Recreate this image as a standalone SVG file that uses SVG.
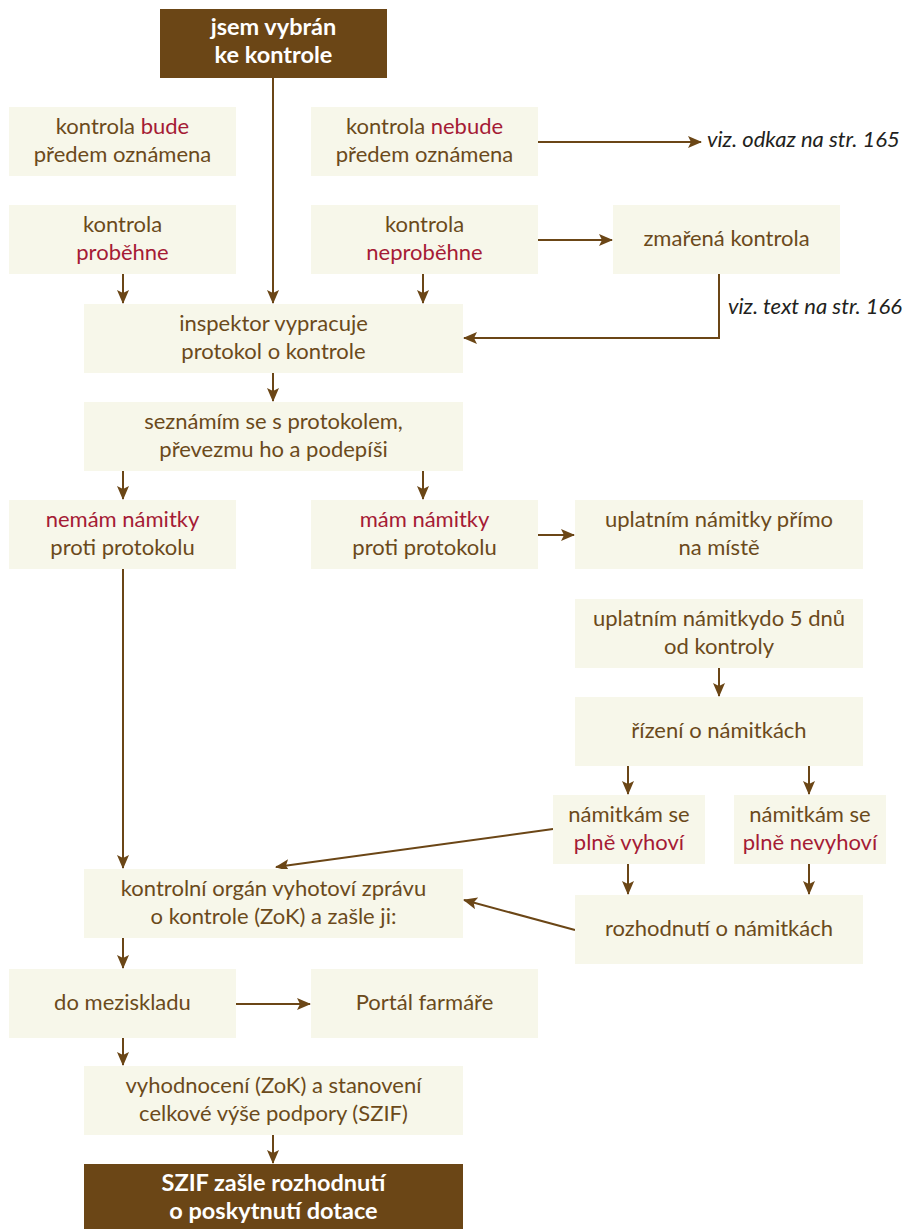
<svg xmlns="http://www.w3.org/2000/svg" width="904" height="1229" viewBox="0 0 904 1229">
<style>
.b{fill:#f7f7ea}
.d{fill:#6b4616}
text{font-family:Lato,"Open Sans","Liberation Sans",sans-serif;font-size:22px;fill:#6b4a1b;text-anchor:middle}
.w{fill:#ffffff;font-weight:bold;font-size:23.5px}
.r{fill:#a51b35}
.i{font-style:italic;fill:#231f20;text-anchor:start}
.c{stroke:#6b4616;stroke-width:2;fill:none;marker-end:url(#a)}
</style>
<defs>
<marker id="a" markerUnits="userSpaceOnUse" markerWidth="14" markerHeight="12" viewBox="0 0 14 12" refX="13" refY="6" orient="auto">
<path d="M0,0 L14,6 L0,12 L3,6 Z" fill="#6b4616"/>
</marker>
</defs>
<g id="connectors">
<path class="c" d="M273,78 V303"/>
<path class="c" d="M123,274 V303"/>
<path class="c" d="M423,274 V303"/>
<path class="c" d="M538,142 H701"/>
<path class="c" d="M538,240 H612"/>
<path class="c" d="M719,274 V338 H464"/>
<path class="c" d="M273,373 V401"/>
<path class="c" d="M123,471 V499"/>
<path class="c" d="M423,471 V499"/>
<path class="c" d="M538,535 H574"/>
<path class="c" d="M719,668 V696"/>
<path class="c" d="M628,766 V794"/>
<path class="c" d="M809,766 V794"/>
<path class="c" d="M628,864 V894"/>
<path class="c" d="M809,864 V894"/>
<path class="c" d="M123,569 V868"/>
<path class="c" d="M553,829 L276,867"/>
<path class="c" d="M575,930 L464,900"/>
<path class="c" d="M123,938 V968"/>
<path class="c" d="M236,1004 H310"/>
<path class="c" d="M123,1038 V1065"/>
<path class="c" d="M273,1135 V1163"/>
</g>
<g id="n1"><rect class="d" x="160" y="9" width="227" height="69"/><text class="w" x="273.5" y="35">jsem vybrán</text><text class="w" x="273.5" y="63">ke kontrole</text></g>
<g id="n2"><rect class="b" x="9" y="107" width="227" height="69"/><text x="122.5" y="133.5">kontrola <tspan class="r">bude</tspan></text><text x="122.5" y="162">předem oznámena</text></g>
<g id="n3"><rect class="b" x="311" y="107" width="227" height="69"/><text x="424.5" y="133.5">kontrola <tspan class="r">nebude</tspan></text><text x="424.5" y="162">předem oznámena</text></g>
<g id="n4"><rect class="b" x="9" y="205" width="227" height="69"/><text x="122.5" y="231.5">kontrola</text><text class="r" x="122.5" y="260">proběhne</text></g>
<g id="n5"><rect class="b" x="311" y="205" width="227" height="69"/><text x="424.5" y="231.5">kontrola</text><text class="r" x="424.5" y="260">neproběhne</text></g>
<g id="n6"><rect class="b" x="613" y="205" width="227" height="69"/><text x="726.5" y="246">zmařená kontrola</text></g>
<g id="n7"><rect class="b" x="84" y="304" width="379" height="69"/><text x="273.5" y="330.5">inspektor vypracuje</text><text x="273.5" y="359">protokol o kontrole</text></g>
<g id="n8"><rect class="b" x="84" y="402" width="379" height="69"/><text x="273.5" y="428.5">seznámím se s protokolem,</text><text x="273.5" y="457">převezmu ho a podepíši</text></g>
<g id="n9"><rect class="b" x="9" y="500" width="227" height="69"/><text class="r" x="122.5" y="526.5">nemám námitky</text><text x="122.5" y="555">proti protokolu</text></g>
<g id="n10"><rect class="b" x="311" y="500" width="227" height="69"/><text class="r" x="424.5" y="526.5">mám námitky</text><text x="424.5" y="555">proti protokolu</text></g>
<g id="n11"><rect class="b" x="575" y="500" width="288" height="69"/><text x="719" y="526.5">uplatním námitky přímo</text><text x="719" y="555">na místě</text></g>
<g id="n12"><rect class="b" x="575" y="599" width="288" height="69"/><text x="719" y="625.5">uplatním námitkydo 5 dnů</text><text x="719" y="654">od kontroly</text></g>
<g id="n13"><rect class="b" x="575" y="697" width="288" height="69"/><text x="719" y="738">řízení o námitkách</text></g>
<g id="n14"><rect class="b" x="553" y="795" width="152" height="69"/><text x="629" y="821.5">námitkám se</text><text class="r" x="629" y="850">plně vyhoví</text></g>
<g id="n15"><rect class="b" x="734" y="795" width="152" height="69"/><text x="810" y="821.5">námitkám se</text><text class="r" x="810" y="850">plně nevyhoví</text></g>
<g id="n16"><rect class="b" x="575" y="895" width="288" height="69"/><text x="719" y="936">rozhodnutí o námitkách</text></g>
<g id="n17"><rect class="b" x="84" y="869" width="379" height="69"/><text x="273.5" y="895.5">kontrolní orgán vyhotoví zprávu</text><text x="273.5" y="924">o kontrole (ZoK) a zašle ji:</text></g>
<g id="n18"><rect class="b" x="9" y="969" width="227" height="69"/><text x="122.5" y="1010">do meziskladu</text></g>
<g id="n19"><rect class="b" x="311" y="969" width="227" height="69"/><text x="424.5" y="1010">Portál farmáře</text></g>
<g id="n20"><rect class="b" x="84" y="1066" width="379" height="69"/><text x="273.5" y="1092.5">vyhodnocení (ZoK) a stanovení</text><text x="273.5" y="1121">celkové výše podpory (SZIF)</text></g>
<g id="n21"><rect class="d" x="84" y="1164" width="379" height="70"/><text class="w" x="273.5" y="1190.5">SZIF zašle rozhodnutí</text><text class="w" x="273.5" y="1219">o poskytnutí dotace</text></g>
<g id="labels"><text class="i" x="707" y="147">viz. odkaz na str. 165</text><text class="i" x="728" y="314">viz. text na str. 166</text></g>
</svg>
